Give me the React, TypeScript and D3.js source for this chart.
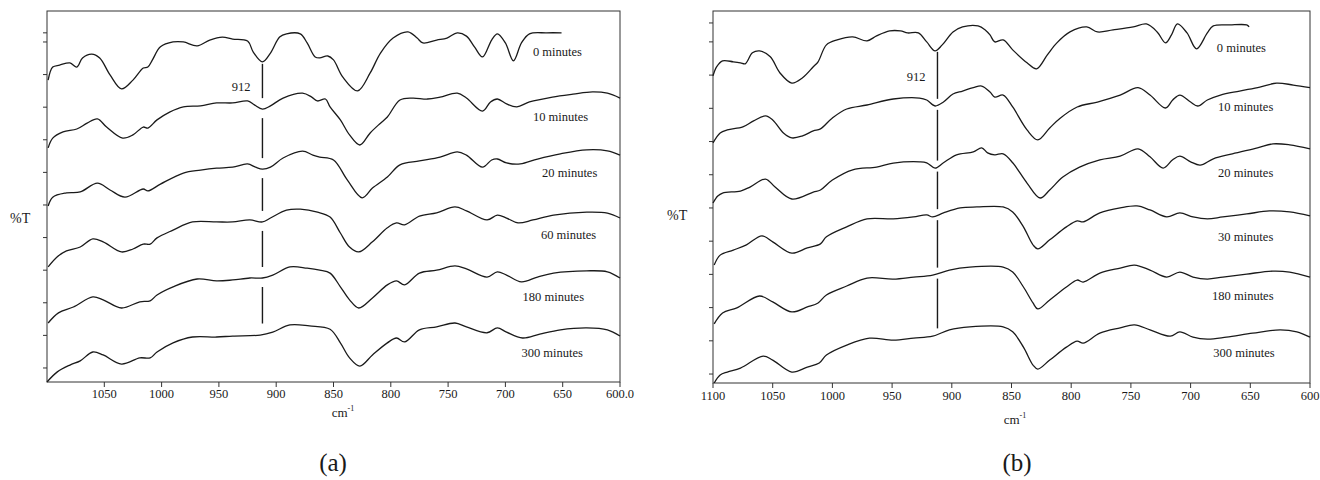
import React from "react";
import * as d3 from "d3";

// ---------- DATA (wavenumber cm-1, %T in arbitrary offset units) ----------
const NAMES_A = ["0 minutes", "10 minutes", "20 minutes", "60 minutes", "180 minutes", "300 minutes"];
const NAMES_B = ["0 minutes", "10 minutes", "20 minutes", "30 minutes", "180 minutes", "300 minutes"];

const X_TICKS_A = [1050, 1000, 950, 900, 850, 800, 750, 700, 650, 600];
const X_LABELS_A = ["1050", "1000", "950", "900", "850", "800", "750", "700", "650", "600.0"];
const X_TICKS_B = [1100, 1050, 1000, 950, 900, 850, 800, 750, 700, 650, 600];
const X_LABELS_B = ["1100", "1050", "1000", "950", "900", "850", "800", "750", "700", "650", "600"];
const Y_TICKS_A = [0, 10, 20, 30, 40, 50, 60, 70, 80, 90, 100, 102.8];
const Y_TICKS_B = [0, 10, 20, 30, 40, 50, 60, 70, 80, 90, 100, 105.7];
const MARKER = 912;

const A0: [number, number][] = [
  [1099, 88.3], [1095, 92.3], [1089, 92.9], [1080, 93.6], [1074, 92.3], [1069, 95.1], [1061, 96.3], [1054, 95.1],
  [1045, 89.9], [1035, 85.6], [1025, 88.3], [1016, 92.0], [1012, 92.3], [1008, 94.5], [1001, 98.5], [990, 100.0],
  [981, 100.0], [969, 98.8], [958, 100.6], [947, 101.5], [938, 100.9], [925, 100.3], [920, 96.9], [912, 93.9],
  [905, 96.6], [897, 101.5], [891, 102.5], [879, 102.5], [873, 99.7], [866, 95.4], [862, 95.1], [855, 95.7],
  [850, 94.5], [842, 89.3], [829, 85.0], [818, 90.5], [809, 96.6], [798, 101.2], [785, 103.1], [777, 101.2],
  [772, 99.7], [760, 100.6], [751, 101.2], [742, 102.8], [734, 101.8], [727, 98.5], [720, 95.4], [712, 100.6],
  [707, 102.5], [700, 99.7], [693, 94.2], [686, 99.7], [679, 102.5], [664, 102.8], [651, 102.8],
];
const A10: [number, number][] = [
  [1099, 67.5], [1095, 70.5], [1086, 72.4], [1074, 73.3], [1065, 75.1], [1056, 76.4], [1048, 73.9], [1034, 70.5],
  [1025, 71.5], [1016, 73.9], [1012, 73.6], [1004, 76.1], [993, 78.5], [981, 80.1], [966, 80.4], [952, 81.3],
  [938, 81.3], [925, 81.9], [919, 80.7], [912, 79.4], [905, 80.4], [894, 82.8], [877, 84.3], [869, 83.1],
  [864, 81.9], [857, 82.5], [853, 80.1], [844, 76.1], [836, 71.5], [827, 68.4], [818, 72.1], [809, 75.1],
  [803, 77.0], [792, 82.2], [781, 82.8], [768, 82.5], [757, 83.1], [742, 84.3], [734, 82.8], [720, 78.8],
  [713, 81.6], [707, 82.5], [699, 81.0], [690, 80.1], [679, 81.6], [659, 83.1], [641, 84.0], [624, 84.7],
  [611, 84.3], [600, 82.8],
];
const A20: [number, number][] = [
  [1099, 49.7], [1095, 52.4], [1083, 53.7], [1071, 54.0], [1056, 56.7], [1045, 54.6], [1032, 52.4], [1016, 54.9],
  [1012, 54.3], [1001, 56.4], [981, 59.8], [966, 60.7], [952, 61.3], [938, 61.6], [925, 62.6], [918, 61.6],
  [912, 61.0], [905, 61.6], [894, 64.4], [877, 66.5], [868, 65.3], [862, 64.7], [850, 63.8], [838, 57.7],
  [825, 52.2], [816, 55.2], [803, 58.6], [792, 62.3], [775, 63.5], [757, 64.7], [742, 66.3], [734, 65.3],
  [720, 61.6], [712, 63.8], [707, 64.1], [699, 62.9], [687, 62.6], [672, 64.1], [652, 65.7], [629, 66.9],
  [611, 66.6], [600, 65.3],
];
const A60: [number, number][] = [
  [1099, 31.0], [1091, 34.1], [1083, 35.9], [1071, 37.1], [1060, 39.6], [1051, 38.7], [1035, 35.6], [1025, 36.5],
  [1016, 38.0], [1010, 38.0], [1004, 39.9], [990, 42.3], [973, 44.8], [952, 44.8], [938, 44.8], [923, 45.4],
  [912, 44.8], [905, 46.0], [891, 48.4], [879, 48.7], [864, 47.8], [853, 46.3], [844, 41.4], [836, 37.1],
  [828, 35.6], [816, 38.7], [803, 43.0], [795, 44.5], [788, 43.9], [775, 46.6], [760, 47.6], [744, 49.4],
  [734, 48.2], [716, 45.4], [707, 46.9], [699, 46.0], [689, 44.5], [676, 45.4], [658, 46.9], [629, 47.8],
  [611, 47.5], [600, 46.0],
];
const A180: [number, number][] = [
  [1099, 13.8], [1090, 16.9], [1077, 18.7], [1060, 21.8], [1051, 20.9], [1035, 18.4], [1019, 20.3], [1010, 20.6],
  [1004, 22.4], [990, 24.9], [969, 27.3], [952, 26.7], [938, 27.0], [923, 27.6], [912, 27.6], [903, 28.5],
  [888, 31.0], [873, 30.6], [862, 30.0], [853, 29.1], [844, 24.9], [836, 20.9], [828, 18.4], [816, 21.5],
  [803, 25.5], [795, 26.7], [788, 25.5], [775, 29.1], [760, 30.0], [744, 31.3], [734, 30.4], [716, 27.9],
  [707, 29.5], [699, 28.5], [686, 26.4], [672, 27.9], [658, 29.1], [629, 29.8], [611, 29.5], [600, 27.6],
];
const A300: [number, number][] = [
  [1100, -4.3], [1091, -1.2], [1080, 0.9], [1071, 2.2], [1060, 4.9], [1051, 4.0], [1035, 1.2], [1019, 3.1],
  [1010, 3.1], [1004, 4.9], [990, 7.7], [973, 9.5], [952, 9.5], [938, 9.8], [914, 10.1], [903, 11.0],
  [888, 13.2], [871, 12.9], [853, 11.9], [844, 7.7], [836, 3.1], [827, 0.6], [816, 4.0], [803, 7.7],
  [795, 9.2], [788, 8.0], [775, 11.7], [760, 12.6], [744, 13.8], [734, 12.6], [716, 10.8], [707, 12.3],
  [699, 11.0], [685, 9.2], [670, 10.4], [652, 11.7], [629, 12.3], [611, 11.7], [600, 9.8],
];

const B0: [number, number][] = [
  [1100, 89.8], [1097, 92.5], [1092, 94.3], [1083, 94.0], [1077, 93.7], [1073, 93.4], [1067, 96.7], [1061, 97.3],
  [1052, 95.5], [1044, 90.7], [1034, 87.6], [1025, 89.2], [1016, 92.5], [1012, 94.0], [1005, 99.1], [996, 100.6],
  [983, 101.5], [971, 100.3], [963, 101.8], [952, 103.3], [943, 103.3], [937, 102.7], [928, 102.7], [921, 100.0],
  [914, 97.3], [908, 99.1], [899, 103.0], [891, 104.5], [878, 104.8], [872, 103.6], [868, 102.1], [864, 100.0],
  [857, 100.6], [849, 97.6], [837, 93.7], [829, 91.9], [820, 96.1], [812, 99.7], [801, 103.0], [787, 104.5],
  [778, 103.0], [765, 103.6], [748, 104.5], [737, 105.4], [728, 103.0], [721, 99.7], [716, 102.1], [711, 105.4],
  [703, 102.7], [695, 97.9], [686, 102.7], [681, 104.8], [667, 105.1], [653, 105.1], [651, 104.5],
];
const B10: [number, number][] = [
  [1100, 69.6], [1094, 72.6], [1088, 73.5], [1075, 74.4], [1066, 76.2], [1056, 77.7], [1050, 76.5], [1041, 72.6],
  [1034, 71.1], [1025, 71.7], [1016, 73.2], [1010, 73.8], [1000, 77.1], [988, 79.8], [971, 81.0], [949, 82.8],
  [927, 83.1], [921, 82.5], [914, 80.7], [907, 81.9], [899, 84.3], [891, 85.2], [882, 86.2], [875, 86.7],
  [868, 84.9], [864, 83.4], [857, 84.0], [849, 80.4], [837, 73.5], [828, 70.5], [818, 74.1], [809, 77.1],
  [795, 80.4], [778, 81.9], [759, 84.0], [744, 86.2], [734, 84.0], [721, 80.1], [715, 82.5], [709, 84.0],
  [700, 81.9], [694, 80.7], [686, 82.5], [675, 84.0], [659, 85.2], [642, 86.4], [628, 87.6], [614, 87.0],
  [600, 86.2],
];
const B20: [number, number][] = [
  [1100, 51.5], [1096, 53.6], [1092, 54.5], [1077, 55.1], [1069, 56.3], [1056, 58.7], [1048, 56.3], [1034, 52.7],
  [1016, 54.8], [1010, 55.4], [1000, 58.4], [983, 61.5], [963, 62.3], [949, 63.5], [927, 63.9], [921, 63.6],
  [914, 62.0], [907, 63.6], [896, 66.0], [882, 66.9], [875, 68.1], [870, 66.6], [864, 66.0], [857, 66.3],
  [849, 63.6], [837, 57.5], [826, 53.0], [818, 55.4], [807, 59.3], [793, 62.3], [776, 64.5], [759, 65.6],
  [744, 67.8], [734, 65.4], [723, 62.0], [715, 64.5], [709, 65.6], [700, 63.9], [692, 62.9], [681, 64.8],
  [665, 66.3], [644, 68.1], [631, 69.3], [617, 69.0], [600, 67.8],
];
const B30: [number, number][] = [
  [1099, 32.8], [1094, 35.8], [1083, 37.3], [1072, 38.9], [1059, 41.6], [1050, 39.8], [1034, 36.4], [1021, 38.0],
  [1010, 39.2], [1005, 41.3], [988, 44.3], [971, 46.7], [949, 46.7], [932, 47.3], [921, 47.9], [916, 47.3],
  [907, 48.5], [893, 50.0], [879, 50.3], [857, 50.3], [849, 48.8], [840, 44.3], [832, 38.9], [828, 37.7],
  [818, 40.4], [804, 44.3], [795, 46.1], [790, 45.8], [776, 48.5], [759, 50.0], [745, 50.6], [734, 49.4],
  [720, 47.3], [709, 48.5], [698, 47.3], [686, 46.7], [673, 47.3], [653, 48.2], [634, 49.1], [617, 48.8],
  [600, 47.6],
];
const B180: [number, number][] = [
  [1099, 15.1], [1092, 18.4], [1080, 19.9], [1061, 23.5], [1050, 21.7], [1034, 18.7], [1021, 20.2], [1012, 21.4],
  [1005, 23.8], [988, 26.5], [971, 28.9], [949, 28.6], [932, 29.2], [916, 29.8], [902, 31.3], [885, 32.2],
  [857, 32.2], [849, 30.7], [840, 26.2], [832, 21.4], [828, 19.6], [818, 22.3], [804, 26.2], [795, 28.3],
  [790, 27.7], [776, 30.4], [759, 31.9], [747, 32.8], [734, 31.3], [720, 29.2], [709, 30.7], [698, 29.2],
  [686, 28.6], [673, 29.2], [653, 30.1], [631, 31.0], [617, 30.7], [600, 29.2],
];
const B300: [number, number][] = [
  [1099, -2.7], [1094, -0.3], [1088, 0.6], [1077, 1.8], [1058, 5.4], [1050, 4.2], [1034, 0.6], [1021, 2.1],
  [1011, 3.3], [1005, 5.7], [988, 8.7], [969, 10.8], [949, 10.2], [932, 10.8], [916, 11.4], [902, 13.3],
  [885, 14.2], [857, 14.2], [849, 12.7], [840, 8.1], [832, 2.7], [828, 1.5], [818, 4.2], [804, 8.1],
  [795, 9.9], [790, 9.3], [776, 12.3], [759, 13.9], [747, 14.8], [734, 13.3], [717, 11.4], [709, 12.7],
  [698, 11.1], [686, 10.5], [670, 11.1], [648, 12.3], [625, 13.3], [611, 12.7], [600, 11.1],
];

// label anchors (wavenumber, %T) for the series names
const LABEL_AT_A: [number, number][] = [[676, 95.7], [676, 75.8], [668, 58.6], [669, 39.6], [685, 20.5], [686, 3.4]];
const LABEL_AT_B: [number, number][] = [[678, 97.0], [677, 79.2], [677, 59.3], [677, 40.1], [682, 22.3], [681, 5.1]];

// ---------- LAYOUT ----------
type Cfg = {
  left: number; right: number; top: number; bottom: number;
  yDomain: [number, number];
  xTicks: number[]; xLabels: string[]; yTicks: number[];
  series: [number, number][][]; names: string[]; labelAt: [number, number][];
  tickBase: number; cmX: number; cmY: number; capX: number; capY: number; cap: string;
  pctX: number; pctY: number; markerV: number;
  dashStart0: number; dashStart: number; dashEnd: number;
};

const FONT = "'Liberation Serif', 'Times New Roman', serif";
const INK = "#1a1a1a";

function valueAt(s: [number, number][], wn: number): number {
  for (let i = 0; i < s.length - 1; i++) {
    const [x0, y0] = s[i];
    const [x1, y1] = s[i + 1];
    if (wn <= x0 && wn >= x1) {
      const t = (x0 - wn) / (x0 - x1);
      return y0 + t * (y1 - y0);
    }
  }
  return s[s.length - 1][1];
}

function Panel({ c }: { c: Cfg }) {
  const x = d3.scaleLinear().domain([1100, 600]).range([c.left, c.right]);
  const y = d3.scaleLinear().domain(c.yDomain).range([c.bottom, c.top]);
  const line = d3
    .line<[number, number]>()
    .x((d) => x(d[0]))
    .y((d) => y(d[1]))
    .curve(d3.curveCatmullRom.alpha(0.5));

  const mx = x(MARKER);
  const ys = c.series.map((s) => y(valueAt(s, MARKER)));
  const dashes = ys.slice(0, -1).map((y0, i) => [y0 + (i === 0 ? c.dashStart0 : c.dashStart), ys[i + 1] - c.dashEnd]);

  return (
    <g>
      <rect x={c.left} y={c.top} width={c.right - c.left} height={c.bottom - c.top} fill="none" stroke="#333" strokeWidth={1} />
      {c.yTicks.map((t) => (
        <line key={"yt" + t} x1={c.left - 4} x2={c.left} y1={y(t)} y2={y(t)} stroke="#333" strokeWidth={1} />
      ))}
      {c.xTicks.map((t, i) => (
        <g key={"xt" + t}>
          <line x1={x(t)} x2={x(t)} y1={c.bottom} y2={c.bottom + 5} stroke="#333" strokeWidth={1} />
          <text x={x(t)} y={c.tickBase} textAnchor="middle" fontSize={12.5} fontFamily={FONT} fill={INK}>
            {c.xLabels[i]}
          </text>
        </g>
      ))}
      {c.series.map((s, i) => (
        <path key={"s" + i} d={line(s) || ""} fill="none" stroke={INK} strokeWidth={1.3} strokeLinejoin="round" />
      ))}
      {c.names.map((n, i) => (
        <text key={"n" + i} x={x(c.labelAt[i][0])} y={y(c.labelAt[i][1])} fontSize={12.5} fontFamily={FONT} fill={INK}>
          {n}
        </text>
      ))}
      {dashes.map(([a, b], i) => (
        <line key={"d" + i} x1={mx} x2={mx} y1={a} y2={b} stroke={INK} strokeWidth={1.4} />
      ))}
      <text x={mx - 12} y={y(c.markerV)} textAnchor="end" fontSize={12.5} fontFamily={FONT} fill={INK}>
        {String(MARKER)}
      </text>
      <text x={c.pctX} y={c.pctY} fontSize={14} fontFamily={FONT} fill={INK}>%T</text>
      <text x={c.cmX} y={c.cmY} textAnchor="middle" fontSize={13} fontFamily={FONT} fill={INK}>
        cm<tspan dy={-6} fontSize={8}>-1</tspan>
      </text>
      <text x={c.capX} y={c.capY} textAnchor="middle" fontSize={25} fontFamily={FONT} fill={INK}>
        {c.cap}
      </text>
    </g>
  );
}

const PANEL_A: Cfg = {
  left: 47, right: 620, top: 11, bottom: 382, yDomain: [-4.3, 109.5],
  xTicks: X_TICKS_A, xLabels: X_LABELS_A, yTicks: Y_TICKS_A,
  series: [A0, A10, A20, A60, A180, A300], names: NAMES_A, labelAt: LABEL_AT_A,
  tickBase: 398, cmX: 343, cmY: 417, capX: 333, capY: 471, cap: "(a)",
  pctX: 10, pctY: 223, markerV: 85.0, dashStart0: 2, dashStart: 9, dashEnd: 11,
};
const PANEL_B: Cfg = {
  left: 713, right: 1310, top: 11, bottom: 383, yDomain: [-2.7, 109.3],
  xTicks: X_TICKS_B, xLabels: X_LABELS_B, yTicks: Y_TICKS_B,
  series: [B0, B10, B20, B30, B180, B300], names: NAMES_B, labelAt: LABEL_AT_B,
  tickBase: 400, cmX: 1015, cmY: 424, capX: 1017, capY: 471, cap: "(b)",
  pctX: 667, pctY: 220, markerV: 88.2, dashStart0: 3, dashStart: 5, dashEnd: 6,
};

export default function App() {
  return (
    <svg
      width={1320}
      height={480}
      viewBox="0 0 1320 480"
      style={{ position: "absolute", left: 0, top: 0, background: "#fff" }}
    >
      <rect x={0} y={0} width={1320} height={480} fill="#fff" />
      <Panel c={PANEL_A} />
      <Panel c={PANEL_B} />
    </svg>
  );
}
